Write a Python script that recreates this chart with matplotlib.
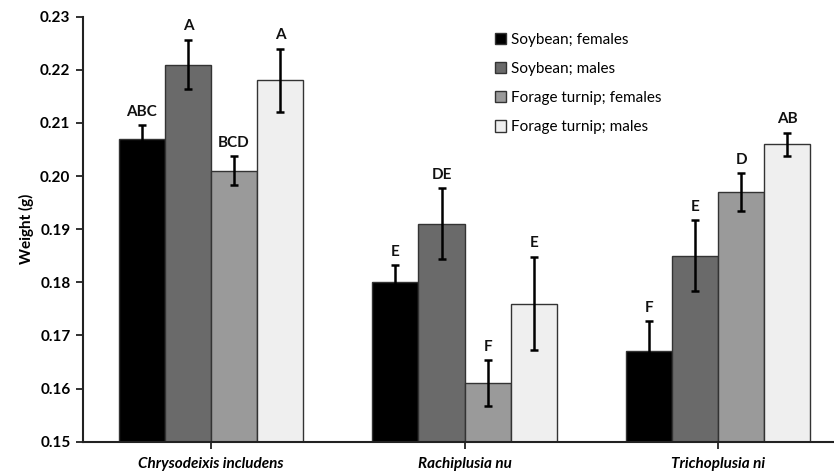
import numpy as np
import matplotlib
matplotlib.use("Agg")
import matplotlib.pyplot as plt

plt.rcParams['font.family'] = ['Lato', 'DejaVu Sans']

species = ["Chrysodeixis includens", "Rachiplusia nu", "Trichoplusia ni"]
series = ["Soybean; females", "Soybean; males",
          "Forage turnip; females", "Forage turnip; males"]
means = [
    [0.207, 0.180, 0.167],
    [0.221, 0.191, 0.185],
    [0.201, 0.161, 0.197],
    [0.218, 0.176, 0.206],
]
errors = [
    [0.0026, 0.0032, 0.0057],
    [0.0047, 0.0067, 0.0067],
    [0.0027, 0.0043, 0.0035],
    [0.0060, 0.0088, 0.0022],
]
letters = [
    ["ABC", "E", "F"],
    ["A", "DE", "E"],
    ["BCD", "F", "D"],
    ["A", "E", "AB"],
]
colors = ["#000000", "#6a6a6a", "#9a9a9a", "#efefef"]

fig = plt.figure(figsize=(8.34, 4.75), dpi=100)
ax = fig.add_axes([83 / 834, 33.3 / 475, (834 - 83) / 834, 425 / 475])

x = np.arange(len(species))
w = 0.182
for i in range(4):
    pos = x + (i - 1.5) * w
    ax.bar(pos, means[i], w, bottom=0, color=colors[i], edgecolor="#333333",
           linewidth=1.0, label=series[i], zorder=2)
    ax.errorbar(pos, means[i], yerr=errors[i], fmt="none", ecolor="#000000",
                elinewidth=1.8, capsize=3, capthick=1.8, zorder=3)
    for p, m, e, t in zip(pos, means[i], errors[i], letters[i]):
        ax.text(p, m + e + 0.0012, t, ha="center", va="bottom",
                fontsize=11, fontweight="bold", color="#111111")

ax.set_ylim(0.15, 0.23)
ax.set_xlim(-0.505, 2.457)
ax.set_yticks(np.arange(0.15, 0.2301, 0.01))
ax.set_yticklabels([f"{v:.2f}" for v in np.arange(0.15, 0.2301, 0.01)],
                   fontweight="bold", fontsize=11)
ax.set_xticks(x)
ax.set_xticklabels(species, fontstyle="italic", fontweight="bold", fontsize=11)
ax.set_ylabel("Weight (g)", fontweight="bold", fontsize=11, labelpad=4)

for s in ["top", "right"]:
    ax.spines[s].set_visible(False)
for s in ["left", "bottom"]:
    ax.spines[s].set_linewidth(1.5)
    ax.spines[s].set_color("#222222")
ax.tick_params(axis="y", length=5, width=1.3, color="#222222", pad=4)
ax.tick_params(axis="x", length=5, width=1.3, color="#222222", pad=6)

leg = ax.legend(loc="upper left", bbox_to_anchor=(0.53, 0.995), frameon=False,
                fontsize=11, handlelength=0.75, handleheight=0.75,
                handletextpad=0.3, labelspacing=1.0)

fig.savefig("out.png", dpi=100)
